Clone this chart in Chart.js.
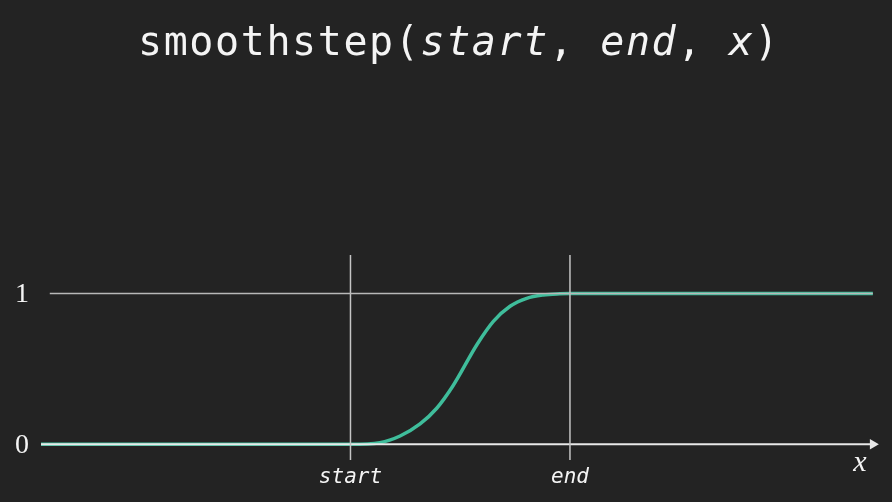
<!DOCTYPE html>
<html>
<head>
<meta charset="utf-8">
<script src="https://cdn.jsdelivr.net/npm/chart.js@4/dist/chart.umd.min.js"></script>
<style>
  html, body { margin: 0; padding: 0; background: #232323; }
  #wrap { width: 892px; height: 502px; position: relative; }
</style>
</head>
<body>
<div id="wrap"><canvas id="c"></canvas></div>
<script>
// ---- data (x: start = 0, end = 1) ----
const titleParts = [
  { text: 'smoothstep(', italic: false },
  { text: 'start', italic: true },
  { text: ', ', italic: false },
  { text: 'end', italic: true },
  { text: ', ', italic: false },
  { text: 'x', italic: true },
  { text: ')', italic: false }
];
const curveX = [-1.41, 0, 0.134, 0.226, 0.317, 0.393, 0.468, 0.578, 0.651, 0.727, 0.803, 0.878, 0.954, 1, 2.38];
const curveY = [0, 0, 0.011, 0.055, 0.135, 0.239, 0.39, 0.665, 0.815, 0.915, 0.968, 0.99, 0.998, 1, 1];
const oneLineX = [-1.37, 2.38];
const oneLineY = [1, 1];
const axisX = [-1.41, 2.38];
const axisY = [0, 0];
const markerX = [0, 1];             // start, end
const markerYRange = [-0.104, 1.255];
const xTickLabels = ['start', 'end'];
const yTickValues = [0, 1];
const yTickLabels = ['0', '1'];
const axisName = 'x';

const toPts = (xs, ys) => xs.map((x, i) => ({ x, y: ys[i] }));

const textPlugin = {
  id: 'texts',
  afterDraw(chart) {
    const ctx = chart.ctx;
    const xs = chart.scales.x, ys = chart.scales.y;
    ctx.save();
    ctx.fillStyle = '#f4f4f4';
    // title
    ctx.textBaseline = 'alphabetic';
    ctx.textAlign = 'left';
    ctx.letterSpacing = '1.6px';
    const fN = '40px "DejaVu Sans Mono"', fI = 'oblique 40px "DejaVu Sans Mono"';
    let total = 0;
    titleParts.forEach(p => { ctx.font = p.italic ? fI : fN; total += ctx.measureText(p.text).width; });
    let tx = 459 - total / 2;
    titleParts.forEach(p => { ctx.font = p.italic ? fI : fN; ctx.fillText(p.text, tx, 55); tx += ctx.measureText(p.text).width; });
    ctx.letterSpacing = '0px';
    // y tick labels
    ctx.font = '28px "Liberation Serif"';
    ctx.textAlign = 'center';
    ctx.textBaseline = 'middle';
    yTickValues.forEach((v, i) => ctx.fillText(yTickLabels[i], 22, ys.getPixelForValue(v) + 1));
    // x tick labels
    ctx.font = 'oblique 21px "DejaVu Sans Mono"';
    markerX.forEach((v, i) => ctx.fillText(xTickLabels[i], xs.getPixelForValue(v), 478));
    // axis name
    ctx.font = 'italic 30px "Liberation Serif"';
    ctx.fillText(axisName, 860, 463);
    ctx.restore();
  }
};

new Chart(document.getElementById('c'), {
  type: 'scatter',
  data: {
    datasets: [
      { data: toPts(oneLineX, oneLineY), showLine: true, borderColor: '#b8b8b8', borderWidth: 1.5, pointRadius: 0 },
      { data: [{ x: markerX[0], y: markerYRange[0] }, { x: markerX[0], y: markerYRange[1] }], showLine: true, borderColor: '#c4c4c4', borderWidth: 1.5, pointRadius: 0 },
      { data: [{ x: markerX[1], y: markerYRange[0] }, { x: markerX[1], y: markerYRange[1] }], showLine: true, borderColor: '#c4c4c4', borderWidth: 1.5, pointRadius: 0 },
      { data: toPts(axisX, axisY), showLine: true, borderColor: '#e8e8e8', borderWidth: 2,
        pointRadius: [0, 6], pointStyle: 'triangle', rotation: 90,
        pointBackgroundColor: '#e8e8e8', pointBorderColor: '#e8e8e8', pointBorderWidth: 0 },
      { data: toPts(curveX, curveY), showLine: true, borderColor: '#3fbd9b', borderWidth: 3.5, pointRadius: 0,
        cubicInterpolationMode: 'monotone' }
    ]
  },
  options: {
    responsive: true,
    maintainAspectRatio: false,
    animation: false,
    layout: { padding: { left: 41, right: 13, top: 255, bottom: 42 } },
    plugins: { legend: { display: false }, tooltip: { enabled: false }, title: { display: false } },
    scales: {
      x: { type: 'linear', display: false, min: -1.41, max: 2.408 },
      y: { type: 'linear', display: false, min: -0.104, max: 1.255 }
    },
    elements: { line: { borderCapStyle: 'butt' } }
  },
  plugins: [textPlugin]
});
</script>
</body>
</html>
